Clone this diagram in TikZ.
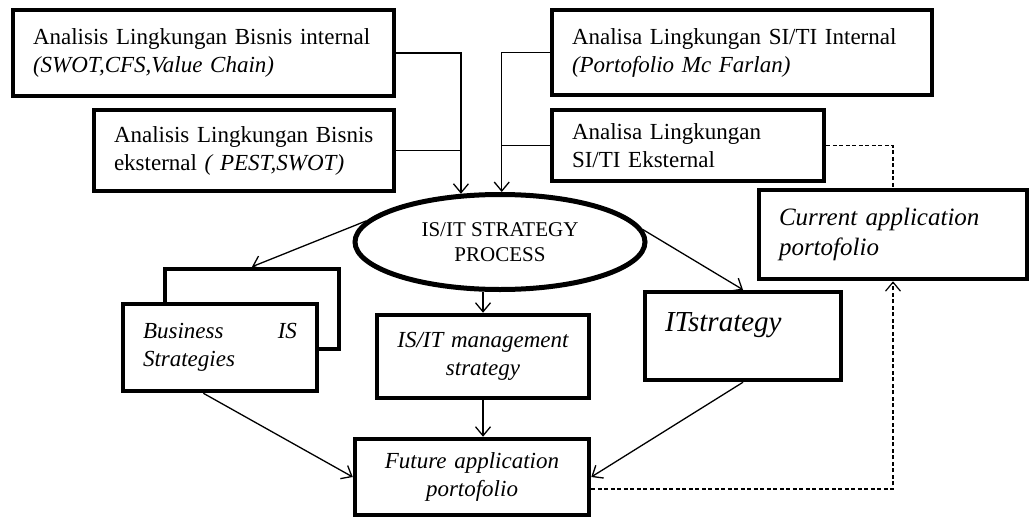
\documentclass[tikz,border=0pt]{standalone}
\usepackage{fontspec}
\setmainfont{Liberation Serif}
\usetikzlibrary{arrows.meta,shapes.geometric}

\begin{document}
\begin{tikzpicture}[x=1pt,y=-1pt,
    box/.style={draw,line width=4.5pt,fill=white,inner xsep=20pt,inner ysep=0pt,
      align=left,font=\fontsize{23}{28}\selectfont},
    itbox/.style={box,font=\fontsize{23}{28}\selectfont\itshape},
    flow/.style={line width=1.3pt,-{Straight Barb[length=9pt,width=15pt]}},
    dashline/.style={line width=1.2pt,dash pattern=on 4pt off 2.5pt}]
  \useasboundingbox (0,0) rectangle (1030,519);

  \node[box,minimum width=381pt,minimum height=86pt,text width=341pt] (bisint) at (203.5,53)
    {Analisis Lingkungan Bisnis internal\\\textit{(SWOT,CFS,Value Chain)}};
  \node[box,minimum width=300pt,minimum height=81pt,text width=260pt] (biseks) at (244,150.5)
    {Analisis Lingkungan Bisnis\\eksternal \textit{( PEST,SWOT)}};
  \node[box,minimum width=380pt,minimum height=85pt,text width=340pt] (siint) at (742,52.5)
    {Analisa Lingkungan SI/TI Internal\\\textit{(Portofolio Mc Farlan)}};
  \node[box,minimum width=272pt,minimum height=71pt,text width=232pt] (sieks) at (688,145.5)
    {Analisa Lingkungan\\SI/TI Eksternal};
  \node[itbox,minimum width=268pt,minimum height=89pt,text width=228pt,
    font=\fontsize{25}{30}\selectfont\itshape] (current) at (893,234.5)
    {Current application\\portofolio};

  \node[draw,ellipse,line width=5pt,fill=white,minimum width=290pt,minimum height=95pt,
    inner sep=0pt,align=center,font=\fontsize{21}{25}\selectfont] (proc) at (500,242)
    {IS/IT STRATEGY\\PROCESS};

  \node[box,minimum width=174pt,minimum height=80pt] (bisback) at (252,309) {};
  \node[itbox,minimum width=194pt,minimum height=87pt,text width=154pt] (bisis) at (220,347.5)
    {\makebox[154pt]{Business\hfill IS}\\Strategies};
  \node[itbox,minimum width=212pt,minimum height=83pt,text width=172pt,align=center] (mgmt) at (483,356.5)
    {IS/IT management\\strategy};
  \node[itbox,minimum width=196pt,minimum height=88pt,text width=156pt,text height=20pt,text depth=30pt,
    font=\fontsize{29}{34}\selectfont\itshape] (itstr) at (743,336)
    {ITstrategy};
  \node[itbox,minimum width=234pt,minimum height=76pt,text width=194pt,align=center] (future) at (472,477)
    {Future application\\portofolio};

  \draw[flow] (bisint.east) -| (proc.129);
  \draw[line width=1.3pt] (biseks.east) -- (biseks.east -| proc.129);
  \draw[flow] (siint.west) -| (proc.88);
  \draw[line width=1.3pt] (sieks.west) -- (sieks.west -| proc.88);
  \draw[dashline] (sieks.east) -| (current.north);
  \draw[dashline,-{Straight Barb[length=9pt,width=15pt]}] ([yshift=-12pt]future.east) -| (current.south);

  \draw[flow] (proc.171) -- (bisback.north);
  \draw[flow] (proc.south -| mgmt.north) -- (mgmt.north);
  \draw[flow] (proc.5) -- (itstr.north);
  \draw[flow] (mgmt.south) -- (mgmt.south |- future.north);
  \draw[flow] (bisis.250) -- (future.west);
  \draw[flow] (itstr.south) -- (future.east);
\end{tikzpicture}
\end{document}
